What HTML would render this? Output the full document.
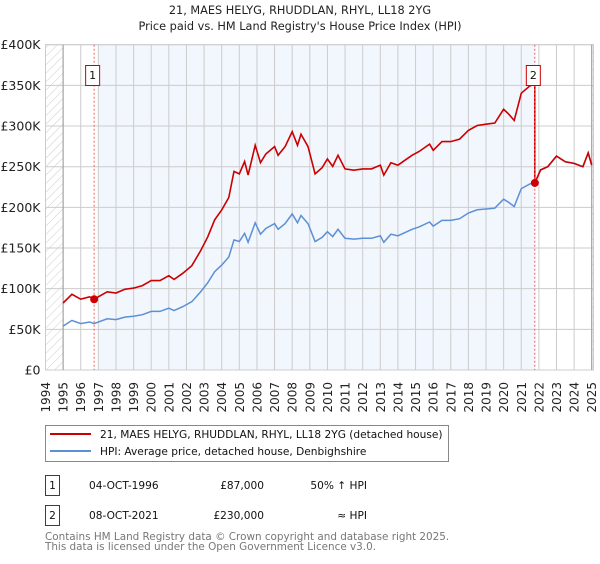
<!DOCTYPE html>
<html><head><meta charset="utf-8">
<style>
body{margin:0;background:#fff;font-family:"DejaVu Sans","Liberation Sans",sans-serif;}
svg text{font-family:"DejaVu Sans","Liberation Sans",sans-serif;}
</style></head>
<body>
<svg id="chart" width="600" height="560" xmlns="http://www.w3.org/2000/svg">
<defs>
<pattern id="hatch" width="6" height="6" patternUnits="userSpaceOnUse" patternTransform="rotate(45)">
<line x1="0" y1="0" x2="0" y2="6" stroke="#ccc" stroke-width="1"/>
</pattern>
</defs>
<text x="300" y="14" text-anchor="middle" font-size="11.3" fill="#222">21, MAES HELYG, RHUDDLAN, RHYL, LL18 2YG</text>
<text x="300" y="30" text-anchor="middle" font-size="11.3" fill="#222">Price paid vs. HM Land Registry's House Price Index (HPI)</text>
<g id="plot"></g>
<g id="legend">
<rect x="45.5" y="425.5" width="403" height="36" fill="#fff" stroke="#888"/>
<line x1="50" y1="434" x2="91" y2="434" stroke="#cc0000" stroke-width="2"/>
<text x="100" y="438" font-size="10.6" fill="#111">21, MAES HELYG, RHUDDLAN, RHYL, LL18 2YG (detached house)</text>
<line x1="50" y1="451" x2="91" y2="451" stroke="#5b8fd6" stroke-width="2"/>
<text x="100" y="455" font-size="10.6" fill="#111">HPI: Average price, detached house, Denbighshire</text>
</g>
<g font-size="10.6" fill="#111">
<rect x="45.5" y="475.5" width="14" height="20" fill="#fff" stroke="#cc0000"/>
<text x="52.5" y="489" text-anchor="middle">1</text>
<text x="89" y="489">04-OCT-1996</text>
<text x="264" y="489" text-anchor="end">£87,000</text>
<text x="367" y="489" text-anchor="end">50% ↑ HPI</text>
<rect x="45.5" y="505.5" width="14" height="20" fill="#fff" stroke="#cc0000"/>
<text x="52.5" y="519" text-anchor="middle">2</text>
<text x="89" y="519">08-OCT-2021</text>
<text x="264" y="519" text-anchor="end">£230,000</text>
<text x="367" y="519" text-anchor="end">≈ HPI</text>
</g>
<text x="45" y="540" font-size="10.4" fill="#777">Contains HM Land Registry data © Crown copyright and database right 2025.</text>
<text x="45" y="550" font-size="10.4" fill="#777">This data is licensed under the Open Government Licence v3.0.</text>
</svg>
<script>
const hpiYears=[1995,1995.5,1996,1996.5,1996.76,1997.5,1998,1998.5,1999,1999.5,2000,2000.5,2001,2001.3,2001.8,2002.3,2002.8,2003.2,2003.6,2004,2004.4,2004.7,2005,2005.3,2005.5,2005.9,2006.2,2006.5,2007,2007.2,2007.6,2008,2008.3,2008.5,2008.9,2009.3,2009.7,2010,2010.3,2010.6,2011,2011.5,2012,2012.5,2013,2013.2,2013.6,2014,2014.4,2014.8,2015.2,2015.8,2016,2016.5,2017,2017.5,2018,2018.5,2019,2019.5,2020,2020.3,2020.6,2021,2021.5,2021.77,2022.1,2022.5,2023,2023.5,2024,2024.5,2024.8,2025];
const hpiValues=[54,61,57,59,57,63,62,65,66,68,72,72,76,73,78,84,96,107,121,129,139,160,158,168,157,181,167,174,180,173,180,192,181,190,180,158,163,170,164,173,162,161,162,162,165,157,167,165,169,173,176,182,177,184,184,186,193,197,198,199,210,206,201,223,229,230,246,250,263,256,254,250,267,252];
const saleYears=[1996.76,2021.77];
const salePrices=[87,230];
const yTicks=[0,50,100,150,200,250,300,350,400];
const yTickLabels=["£0","£50K","£100K","£150K","£200K","£250K","£300K","£350K","£400K"];
const xTickYears=[1994,1995,1996,1997,1998,1999,2000,2001,2002,2003,2004,2005,2006,2007,2008,2009,2010,2011,2012,2013,2014,2015,2016,2017,2018,2019,2020,2021,2022,2023,2024,2025];

const L=45.5,R=593.5,T=44.7,B=370;
const X0=1994,X1=2025.1,YMAX=400;
const x=v=>L+(v-X0)/(X1-X0)*(R-L);
const y=v=>B-v/YMAX*(B-T);
const NS="http://www.w3.org/2000/svg";
const g=document.getElementById('plot');
function mk(tag,attrs,parent){const e=document.createElementNS(NS,tag);for(const k in attrs)e.setAttribute(k,attrs[k]);(parent||g).appendChild(e);return e;}
function hpiAt(t){for(let i=0;i<hpiYears.length-1;i++){if(t<=hpiYears[i+1]){const f=(t-hpiYears[i])/(hpiYears[i+1]-hpiYears[i]);return hpiValues[i]+f*(hpiValues[i+1]-hpiValues[i]);}}return hpiValues[hpiValues.length-1];}

let r=mk('rect',{x:L,y:T,width:R-L,height:B-T,fill:'#fff'});


r=mk('rect',{x:x(1997),y:T,width:x(saleYears[1])-x(1997),height:B-T,fill:'#eef3fc',opacity:0.75});


r=mk('rect',{x:L,y:T,width:x(1995)-L,height:B-T,fill:'url(#hatch)'});


r=mk('rect',{x:x(2025),y:T,width:R-x(2025),height:B-T,fill:'url(#hatch)'});



yTicks.forEach((v,i)=>{
 const ln=mk('line',{x1:L,x2:R,y1:y(v),y2:y(v),stroke:'#ccc','stroke-width':1});
 
 
 const t=mk('text',{x:L-5,y:y(v)+4.5,'text-anchor':'end','font-size':12.5,fill:'#222'});
 
 
 t.textContent=yTickLabels[i];
});
xTickYears.forEach(yr=>{
 const ln=mk('line',{x1:x(yr),x2:x(yr),y1:T,y2:B,stroke:'#ccc','stroke-width':1});
 
 
 const t=mk('text',{x:0,y:0,'text-anchor':'end','font-size':12,fill:'#222',transform:`translate(${x(yr)+4.5},382) rotate(-90)`});
 
 
 t.textContent=yr;
});
r=mk('rect',{x:L,y:T,width:R-L,height:B-T,fill:'none',stroke:'#ccc'});


let ax=mk('line',{x1:x(1995),x2:x(1995),y1:T,y2:B,stroke:'#999'});


ax=mk('line',{x1:x(2025),x2:x(2025),y1:T,y2:B,stroke:'#999'});



const hp=mk('path',{d:hpiYears.map((t,i)=>(i?'L':'M')+x(t).toFixed(1)+','+y(hpiValues[i]).toFixed(1)).join(''),fill:'none',stroke:'#5b8fd6','stroke-width':1.5});



const f1=salePrices[0]/hpiAt(saleYears[0]), f2=salePrices[1]/hpiAt(saleYears[1]);
let pts=[];
hpiYears.forEach((t,i)=>{ if(t<saleYears[1]) pts.push([t,hpiValues[i]*f1]); });
pts.push([saleYears[1],hpiAt(saleYears[1])*f1]);
pts.push([saleYears[1],salePrices[1]]);
hpiYears.forEach((t,i)=>{ if(t>saleYears[1]) pts.push([t,hpiValues[i]*f2]); });
const pp=mk('path',{d:pts.map((p,i)=>(i?'L':'M')+x(p[0]).toFixed(1)+','+y(p[1]).toFixed(1)).join(''),fill:'none',stroke:'#cc0000','stroke-width':1.6});



saleYears.forEach((t,i)=>{
 const vl=mk('line',{x1:x(t),x2:x(t),y1:T,y2:B,stroke:'#f06060','stroke-dasharray':'2,2'});
 
 
 const c=mk('circle',{cx:x(t),cy:y(salePrices[i]),r:4,fill:'#cc0000'});
 
 
 const bx=mk('rect',{x:x(t)-8.5,y:65.5,width:14,height:20,fill:'#fff',stroke:'#cc0000'});
 
 
 const tx=mk('text',{x:x(t)-1.5,y:79,'text-anchor':'middle','font-size':11,fill:'#111'});
 
 
 tx.textContent=String(i+1);
});
</script>
</body></html>
